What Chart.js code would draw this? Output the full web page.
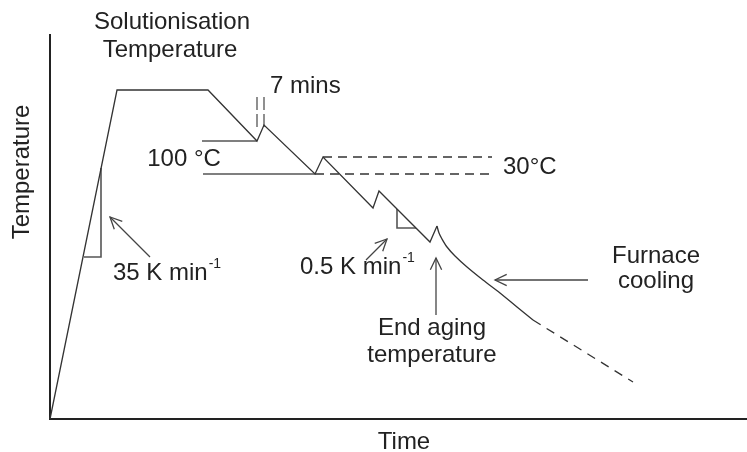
<!DOCTYPE html>
<html>
<head>
<meta charset="utf-8">
<script src="https://cdn.jsdelivr.net/npm/chart.js@4/dist/chart.umd.min.js"></script>
<style>
html, body { margin: 0; padding: 0; background: #fff; }
#wrap { width: 747px; height: 452px; }
</style>
</head>
<body>
<div id="wrap"><canvas id="heat-chart"></canvas></div>
<script>
// Heat treatment schedule, time vs temperature (schematic units)

var profileTime = [0, 67, 158, 207, 214, 265, 273, 323, 329, 380, 387];
var profileTemp = [0, 329, 329, 278, 294, 245, 262, 211, 228, 177, 193];

// furnace cooling after the last aging step
var furnaceTime = [387, 389, 392, 397, 405, 417, 433, 450, 467, 483];
var furnaceTemp = [193, 186, 180, 172, 163, 152, 139, 126, 112, 99];
var tailTime = [483, 583];
var tailTemp = [99, 37];

// 100 °C marks
var holdTime = [[152, 207], [153, 265]];
var holdTemp = [[278, 278], [245, 245]];

// 30 °C marks (dashed)
var stepTime = [[273, 442], [265, 443]];
var stepTemp = [[262, 262], [245, 245]];

// 7 mins break marks
var breakTime = [[207, 207], [214, 214]];
var breakTemp = [[292, 322], [292, 322]];

// slope triangles
var heatRateTime = [34, 51, 51];
var heatRateTemp = [162, 162, 251];
var coolRateTime = [347, 347, 366];
var coolRateTemp = [210, 191, 191];

// arrows: [tailTime, tailTemp, headTime, headTemp]
var arrows = [
  [100, 162, 60, 202],
  [316, 159, 337, 180],
  [386, 104, 386, 161],
  [538, 139, 445, 139]
];

// text labels: [text, time, temp, align]
var labels = [
  ['Solutionisation', 122, 397, 'center'],
  ['Temperature', 120, 369, 'center'],
  ['7 mins', 220, 333, 'left'],
  ['100 °C', 134, 260, 'center'],
  ['30°C', 453, 252, 'left'],
  ['End aging', 382, 91, 'center'],
  ['temperature', 382, 64, 'center'],
  ['Furnace', 606, 163, 'center'],
  ['cooling', 606, 138, 'center'],
  ['Time', 354, -23, 'center']
];
var rateLabels = [
  ['35 K min', '-1', 63, 146],
  ['0.5 K min', '-1', 250, 152]
];
var yTitle = ['Temperature', -28, 247];

var lineColor = '#333';
var textColor = '#222';
var fontFamily = 'Liberation Sans, Arial, sans-serif';

function line(xs, ys, extra) {
  var pts = xs.map(function (x, i) { return { x: x, y: ys[i] }; });
  var ds = {
    data: pts,
    showLine: true,
    borderColor: lineColor,
    borderWidth: 1.3,
    pointRadius: 0,
    fill: false,
    clip: 10
  };
  for (var k in extra) ds[k] = extra[k];
  return ds;
}

var datasets = [];
datasets.push(line(profileTime, profileTemp));
datasets.push(line(furnaceTime, furnaceTemp, { tension: 0.3 }));
datasets.push(line(tailTime, tailTemp, { borderDash: [9, 7] }));
holdTime.forEach(function (xs, i) { datasets.push(line(xs, holdTemp[i], { borderColor: '#555', borderWidth: 1.6 })); });
stepTime.forEach(function (xs, i) { datasets.push(line(xs, stepTemp[i], { borderDash: [9, 6] })); });
breakTime.forEach(function (xs, i) { datasets.push(line(xs, breakTemp[i], { borderDash: [13, 4], borderColor: '#555' })); });
datasets.push(line(heatRateTime, heatRateTemp, { borderColor: '#555', borderWidth: 1.6 }));
datasets.push(line(coolRateTime, coolRateTemp, { borderColor: '#555', borderWidth: 1.6 }));
arrows.forEach(function (a) { datasets.push(line([a[0], a[2]], [a[1], a[3]], { borderColor: '#444' })); });

var annotate = {
  id: 'annotate',
  afterDatasetsDraw: function (chart) {
    var ctx = chart.ctx;
    var xs = chart.scales.x, ys = chart.scales.y;
    ctx.save();

    // arrow heads
    ctx.strokeStyle = '#444';
    ctx.lineWidth = 1.3;
    arrows.forEach(function (a) {
      var x0 = xs.getPixelForValue(a[0]), y0 = ys.getPixelForValue(a[1]);
      var x1 = xs.getPixelForValue(a[2]), y1 = ys.getPixelForValue(a[3]);
      var ang = Math.atan2(y1 - y0, x1 - x0);
      var len = 13, spread = 0.45;
      ctx.beginPath();
      ctx.moveTo(x1 - len * Math.cos(ang - spread), y1 - len * Math.sin(ang - spread));
      ctx.lineTo(x1, y1);
      ctx.lineTo(x1 - len * Math.cos(ang + spread), y1 - len * Math.sin(ang + spread));
      ctx.stroke();
    });

    ctx.fillStyle = textColor;
    ctx.textBaseline = 'middle';
    ctx.font = '24px ' + fontFamily;
    labels.forEach(function (l) {
      ctx.textAlign = l[3];
      ctx.fillText(l[0], xs.getPixelForValue(l[1]), ys.getPixelForValue(l[2]));
    });

    rateLabels.forEach(function (l) {
      var px = xs.getPixelForValue(l[2]), py = ys.getPixelForValue(l[3]);
      ctx.textAlign = 'left';
      ctx.font = '24px ' + fontFamily;
      ctx.fillText(l[0], px, py);
      var w = ctx.measureText(l[0]).width;
      ctx.font = '14px ' + fontFamily;
      ctx.fillText(l[1], px + w + 1, py - 9);
    });

    ctx.font = '24px ' + fontFamily;
    ctx.textAlign = 'center';
    ctx.translate(xs.getPixelForValue(yTitle[1]), ys.getPixelForValue(yTitle[2]));
    ctx.rotate(-Math.PI / 2);
    ctx.fillText(yTitle[0], 0, 0);
    ctx.restore();
  }
};

new Chart(document.getElementById('heat-chart'), {
  type: 'scatter',
  data: { datasets: datasets },
  options: {
    responsive: true,
    maintainAspectRatio: false,
    animation: false,
    layout: { padding: { left: 50, right: 0, top: 35, bottom: 33 } },
    plugins: {
      legend: { display: false },
      tooltip: { enabled: false }
    },
    scales: {
      x: {
        type: 'linear', min: 0, max: 697,
        grid: { display: false, drawTicks: false },
        ticks: { display: false },
        border: { display: true, color: '#222', width: 2 }
      },
      y: {
        type: 'linear', min: 0, max: 384,
        grid: { display: false, drawTicks: false },
        ticks: { display: false },
        border: { display: true, color: '#222', width: 2 }
      }
    }
  },
  plugins: [annotate]
});
</script>
</body>
</html>
